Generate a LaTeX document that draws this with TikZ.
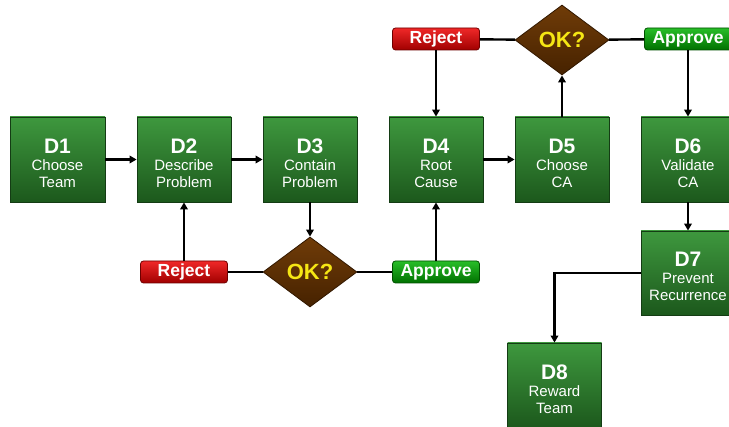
\documentclass[tikz,border=0pt]{standalone}
\usepackage{fontspec}
\setmainfont{Liberation Sans}
\usetikzlibrary{shapes.geometric,arrows.meta}
\definecolor{gtop}{RGB}{62,152,62}
\definecolor{gbot}{RGB}{28,88,28}
\definecolor{gline}{RGB}{20,60,20}
\definecolor{btop}{RGB}{112,60,8}
\definecolor{bbot}{RGB}{70,34,0}
\definecolor{bline}{RGB}{50,24,0}
\definecolor{rtop}{RGB}{240,40,40}
\definecolor{rbot}{RGB}{160,0,0}
\definecolor{rline}{RGB}{110,0,0}
\definecolor{atop}{RGB}{40,190,40}
\definecolor{abot}{RGB}{0,112,0}
\definecolor{aline}{RGB}{0,80,0}
\definecolor{okyel}{RGB}{245,230,20}
\tikzset{
  dbox/.style={draw=gline, line width=0.8pt, top color=gtop, bottom color=gbot,
    minimum width=94pt, minimum height=85pt, inner sep=0pt, text=white, align=center,
    font=\fontsize{15}{17}\selectfont},
  okdia/.style={diamond, draw=bline, line width=0.8pt, top color=btop, bottom color=bbot,
    minimum width=94pt, minimum height=70pt, inner sep=0pt, text=okyel,
    font=\fontsize{22}{24}\selectfont\bfseries},
  rejtag/.style={draw=rline, line width=0.8pt, rounded corners=3pt, top color=rtop, bottom color=rbot,
    minimum width=87pt, minimum height=22pt, inner sep=0pt, text=white,
    font=\fontsize{17.5}{18}\selectfont\bfseries},
  apptag/.style={draw=aline, line width=0.8pt, rounded corners=3pt, top color=atop, bottom color=abot,
    minimum width=87pt, minimum height=22pt, inner sep=0pt, text=white,
    font=\fontsize{17.5}{18}\selectfont\bfseries},
  arr/.style={line width=2.4pt, -{Triangle[length=7pt,width=7.5pt]}},
  ln/.style={line width=2.4pt},
}
\newcommand{\dlabel}[1]{{\fontsize{21}{17}\selectfont\rule{0pt}{22pt}\bfseries #1}}
\begin{document}
\begin{tikzpicture}[x=1pt,y=-1pt]
\useasboundingbox (0,0) rectangle (729,427);
\clip (0,0) rectangle (729,427);
\fill[white] (0,0) rectangle (729,427);
% boxes
\node[dbox, minimum width=95pt] (d1) at (57.5,159.5) {\dlabel{D1}\\Choose\\Team};
\node[dbox] (d2) at (184,159.5) {\dlabel{D2}\\Describe\\Problem};
\node[dbox] (d3) at (310,159.5) {\dlabel{D3}\\Contain\\Problem};
\node[dbox] (d4) at (436,159.5) {\dlabel{D4}\\Root\\Cause};
\node[dbox] (d5) at (562,159.5) {\dlabel{D5}\\Choose\\CA};
\node[dbox] (d6) at (688,159.5) {\dlabel{D6}\\Validate\\CA};
\node[dbox, minimum height=84pt] (d7) at (688,273) {\dlabel{D7}\\Prevent\\Recurrence};
\node[dbox] (d8) at (554.5,385.5) {\dlabel{D8}\\Reward\\Team};
% decisions
\node[okdia] (ok1) at (310,272) {OK?};
\node[okdia] (ok2) at (562,40) {OK?};
\node[rejtag] (rej1) at (184,272) {Reject};
\node[apptag] (app1) at (436,272) {Approve};
\node[rejtag] (rej2) at (436,39) {Reject};
\node[apptag] (app2) at (688,39) {Approve};
% connectors
\draw[arr] (d1) -- (d2);
\draw[arr] (d2) -- (d3);
\draw[arr] (d4) -- (d5);
\draw[arr] (d3) -- (ok1);
\draw[ln] (rej1) -- (ok1);
\draw[ln] (ok1) -- (app1);
\draw[arr] (rej1) -- (d2);
\draw[arr] (app1) -- (d4);
\draw[arr] (d5) -- (ok2);
\draw[ln] (rej2) -- (ok2);
\draw[ln] (ok2) -- (app2);
\draw[arr] (rej2) -- (d4);
\draw[arr] (app2) -- (d6);
\draw[arr] (d6) -- (d7);
\draw[arr] (d7.west) -| (d8.north);
\end{tikzpicture}
\end{document}
